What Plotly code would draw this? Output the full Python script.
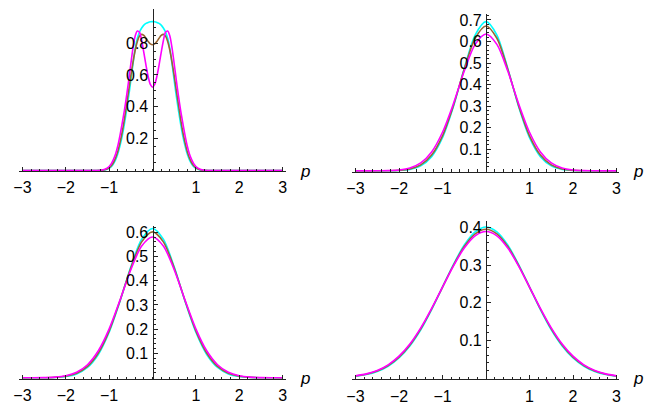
import plotly.graph_objects as go

# ---------------- data ----------------
# panel 1 (top-left)
p1 = [-3.0, -1.3, -1.2, -1.1, -1.0, -0.95, -0.9, -0.85, -0.8, -0.75, -0.7, -0.65, -0.6, -0.55,
      -0.5, -0.45, -0.4, -0.35, -0.3, -0.25, -0.2, -0.15, -0.1, -0.05,
      0.0, 0.05, 0.1, 0.15, 0.2, 0.25, 0.3, 0.35, 0.4, 0.45, 0.5, 0.55, 0.6, 0.65, 0.7, 0.75,
      0.8, 0.85, 0.9, 0.95, 1.0, 1.1, 1.2, 1.3, 3.0]
cyan1 = [0, 0, 0.0005, 0.003, 0.013, 0.024, 0.042, 0.068, 0.105, 0.155, 0.215, 0.29, 0.375, 0.465,
         0.565, 0.67, 0.765, 0.83, 0.87, 0.895, 0.913, 0.924, 0.93, 0.934,
         0.935, 0.934, 0.93, 0.924, 0.913, 0.895, 0.87, 0.83, 0.765, 0.67, 0.565, 0.465, 0.375,
         0.29, 0.215, 0.155, 0.105, 0.068, 0.042, 0.024, 0.013, 0.003, 0.0005, 0, 0]
brown1 = [0, 0, 0.001, 0.004, 0.017, 0.03, 0.05, 0.08, 0.12, 0.175, 0.24, 0.32, 0.41, 0.5,
          0.595, 0.68, 0.755, 0.81, 0.845, 0.855, 0.848, 0.83, 0.81, 0.795,
          0.79, 0.795, 0.81, 0.83, 0.848, 0.855, 0.845, 0.81, 0.755, 0.68, 0.595, 0.5, 0.41,
          0.32, 0.24, 0.175, 0.12, 0.08, 0.05, 0.03, 0.017, 0.004, 0.001, 0, 0]
magenta1 = [0, 0, 0.0015, 0.007, 0.025, 0.043, 0.07, 0.105, 0.155, 0.22, 0.295, 0.375, 0.465, 0.565,
            0.67, 0.77, 0.845, 0.876, 0.868, 0.815, 0.74, 0.66, 0.59, 0.54,
            0.523, 0.54, 0.59, 0.66, 0.74, 0.815, 0.868, 0.876, 0.845, 0.77, 0.67, 0.565, 0.465,
            0.375, 0.295, 0.22, 0.155, 0.105, 0.07, 0.043, 0.025, 0.007, 0.0015, 0, 0]

# panels 2-4 share a common p grid
pg = [-3.0, -2.75, -2.5, -2.25, -2.0, -1.75, -1.5, -1.25, -1.0, -0.75, -0.5, -0.25,
      0.0, 0.25, 0.5, 0.75, 1.0, 1.25, 1.5, 1.75, 2.0, 2.25, 2.5, 2.75, 3.0]

# panel 2 (top-right)
cyan2 = [0, 0, 0.0001, 0.0003, 0.0017, 0.0069, 0.0235, 0.066, 0.1537, 0.297, 0.475, 0.630,
         0.692, 0.630, 0.475, 0.297, 0.1537, 0.066, 0.0235, 0.0069, 0.0017, 0.0003, 0.0001, 0, 0]
brown2 = [0, 0, 0.0001, 0.0005, 0.0023, 0.0087, 0.0276, 0.0732, 0.1626, 0.3025, 0.4713, 0.615,
          0.672, 0.615, 0.4713, 0.3025, 0.1626, 0.0732, 0.0276, 0.0087, 0.0023, 0.0005, 0.0001, 0, 0]
magenta2 = [0, 0, 0.0002, 0.001, 0.004, 0.0131, 0.0367, 0.0878, 0.179, 0.3114, 0.4627, 0.5867,
            0.635, 0.5867, 0.4627, 0.3114, 0.179, 0.0878, 0.0367, 0.0131, 0.004, 0.001, 0.0002, 0, 0]

# panel 3 (bottom-left)
cyan3 = [0, 0.0001, 0.0004, 0.0015, 0.0053, 0.0162, 0.0425, 0.096, 0.1875, 0.315, 0.457, 0.571,
         0.615, 0.571, 0.457, 0.315, 0.1875, 0.096, 0.0425, 0.0162, 0.0053, 0.0015, 0.0004, 0.0001, 0]
brown3 = [0, 0.0001, 0.0005, 0.0019, 0.0064, 0.0187, 0.0469, 0.1022, 0.1933, 0.3176, 0.4527, 0.560,
          0.601, 0.560, 0.4527, 0.3176, 0.1933, 0.1022, 0.0469, 0.0187, 0.0064, 0.0019, 0.0005, 0.0001, 0]
magenta3 = [0.0001, 0.0002, 0.0008, 0.0028, 0.0085, 0.0228, 0.0539, 0.1114, 0.2017, 0.320, 0.445, 0.543,
            0.58, 0.543, 0.445, 0.320, 0.2017, 0.1114, 0.0539, 0.0228, 0.0085, 0.0028, 0.0008, 0.0002, 0.0001]

# panel 4 (bottom-right)
cyan4 = [0.0042, 0.0087, 0.017, 0.031, 0.053, 0.085, 0.128, 0.182, 0.242, 0.302, 0.354, 0.389,
         0.402, 0.389, 0.354, 0.302, 0.242, 0.182, 0.128, 0.085, 0.053, 0.031, 0.017, 0.0087, 0.0042]
brown4 = [0.0047, 0.0096, 0.018, 0.033, 0.055, 0.0875, 0.1305, 0.1835, 0.242, 0.300, 0.350, 0.3838,
          0.396, 0.3838, 0.350, 0.300, 0.242, 0.1835, 0.1305, 0.0875, 0.055, 0.033, 0.018, 0.0096, 0.0047]
magenta4 = [0.0053, 0.0105, 0.0197, 0.0347, 0.0577, 0.090, 0.133, 0.185, 0.242, 0.298, 0.346, 0.3785,
            0.39, 0.3785, 0.346, 0.298, 0.242, 0.185, 0.133, 0.090, 0.0577, 0.0347, 0.0197, 0.0105, 0.0053]

x_ticks = [-3, -2, -1, 1, 2, 3]
y_ticks1 = [0.2, 0.4, 0.6, 0.8]
y_ticks2 = [0.1, 0.2, 0.3, 0.4, 0.5, 0.6, 0.7]
y_ticks3 = [0.1, 0.2, 0.3, 0.4, 0.5, 0.6]
y_ticks4 = [0.1, 0.2, 0.3, 0.4]

# ---------------- layout geometry (pixels in the 654x405 canvas) ----------------
W, H = 654, 405
panels = [
    dict(x=p1, ys=[cyan1, brown1, magenta1], yt=y_ticks1, ystep=0.05, ymaxtick=0.9,
         xr=(-3.09, 3.075), xpx=(12.7, 283.3), y0px=169.3, ppu=160.0, ytop=1.016),
    dict(x=pg, ys=[cyan2, brown2, magenta2], yt=y_ticks2, ystep=0.02, ymaxtick=0.72,
         xr=(-3.08, 3.05), xpx=(350.3, 620.3), y0px=169.7, ppu=216.7, ytop=0.728),
    dict(x=pg, ys=[cyan3, brown3, magenta3], yt=y_ticks3, ystep=0.02, ymaxtick=0.62,
         xr=(-3.09, 3.075), xpx=(12.7, 283.3), y0px=377.7, ppu=244.0, ytop=0.627),
    dict(x=pg, ys=[cyan4, brown4, magenta4], yt=y_ticks4, ystep=0.02, ymaxtick=0.41,
         xr=(-3.08, 3.05), xpx=(350.3, 620.3), y0px=377.7, ppu=377.0, ytop=0.419),
]
colors = ["rgb(0,255,255)", "rgb(153,102,51)", "rgb(255,0,255)"]
axis_col = "rgb(35,35,35)"
font = dict(family="Liberation Sans, Arial, sans-serif", size=16, color="black")

fig = go.Figure()
layout = dict(width=W, height=H, margin=dict(l=0, r=0, t=0, b=0, pad=0),
              plot_bgcolor="white", paper_bgcolor="white", showlegend=False, font=font)
annotations = []

for i, pn in enumerate(panels, start=1):
    sfx = "" if i == 1 else str(i)
    for ys, c in zip(pn["ys"], colors):
        fig.add_trace(go.Scatter(x=pn["x"], y=ys, mode="lines",
                                 line=dict(color=c, width=1.6, shape="spline", smoothing=0.8),
                                 xaxis="x" + sfx, yaxis="y" + sfx, hoverinfo="skip"))
    ymin = -0.004
    ybot_px = pn["y0px"] - ymin * pn["ppu"]
    ytop_px = pn["y0px"] - pn["ytop"] * pn["ppu"]
    xd = [pn["xpx"][0] / W, pn["xpx"][1] / W]
    yd = [1 - ybot_px / H, 1 - ytop_px / H]
    zero_frac = (0 - pn["xr"][0]) / (pn["xr"][1] - pn["xr"][0])
    ypos = xd[0] + zero_frac * (xd[1] - xd[0])

    n = int(round(pn["ymaxtick"] / pn["ystep"]))
    yminor = [round(k * pn["ystep"], 4) for k in range(1, n + 1)]

    layout["xaxis" + sfx] = dict(
        domain=xd, range=list(pn["xr"]), anchor="y" + sfx,
        showline=True, linecolor=axis_col, linewidth=1.1,
        showgrid=False, zeroline=False,
        tickmode="array", tickvals=x_ticks, ticks="inside", ticklen=4,
        tickcolor=axis_col, tickwidth=1, ticklabelstandoff=2,
        minor=dict(ticks="inside", dtick=0.2, tick0=0, ticklen=2.2,
                   tickcolor=axis_col, tickwidth=0.8),
        tickfont=font,
    )
    layout["yaxis" + sfx] = dict(
        domain=yd, range=[ymin, pn["ytop"]], anchor="free", position=ypos,
        showline=True, linecolor=axis_col, linewidth=1.1,
        showgrid=False, zeroline=False,
        tickmode="array", tickvals=pn["yt"], ticks="inside", ticklen=4,
        tickcolor=axis_col, tickwidth=1, ticklabelstandoff=1,
        minor=dict(ticks="inside", tickmode="array", tickvals=yminor, ticklen=2.2,
                   tickcolor=axis_col, tickwidth=0.8),
        tickfont=font,
    )
    annotations.append(dict(text="<i>p</i>", xref="x" + sfx + " domain", yref="y" + sfx,
                            x=1, y=0, xanchor="left", yanchor="middle", xshift=12, yshift=-1,
                            showarrow=False, font=dict(family="Liberation Sans, Arial", size=17,
                                                       color="black")))

layout["annotations"] = annotations
fig.update_layout(**layout)
fig.write_html("out.html", config={"displayModeBar": False},
               post_script="document.body.style.margin='0';document.body.style.overflow='hidden';")
